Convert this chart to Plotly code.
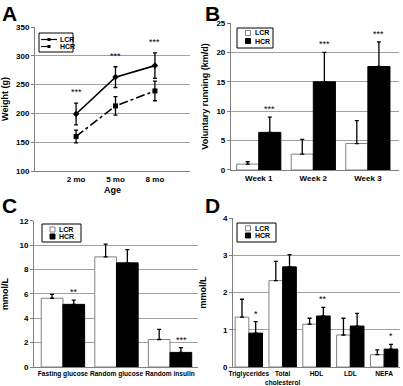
import plotly.graph_objects as go

# ---- Data ----
ages = ["2 mo", "5 mo", "8 mo"]
weight_lcr = [199, 263, 283]
weight_lcr_err = [19, 18, 22]
weight_hcr = [160, 213, 239]
weight_hcr_err = [11, 16, 17]
weight_sig = ["***", "***", "***"]

weeks = ["Week 1", "Week 2", "Week 3"]
run_lcr = [1.0, 2.7, 4.5]
run_lcr_err = [0.4, 2.5, 3.9]
run_hcr = [6.4, 15.0, 17.6]
run_hcr_err = [2.6, 5.0, 4.2]
run_sig = ["***", "***", "***"]

gluc_cats = ["Fasting glucose", "Random glucose", "Random insulin"]
gluc_lcr = [5.65, 9.05, 2.26]
gluc_lcr_err = [0.32, 1.05, 0.84]
gluc_hcr = [5.15, 8.56, 1.2]
gluc_hcr_err = [0.35, 1.09, 0.4]
gluc_sig = ["**", "", "***"]

lipid_cats = ["Triglycerides", "Total<br>cholesterol", "HDL", "LDL", "NEFA"]
lipid_lcr = [1.34, 2.32, 1.15, 0.86, 0.33]
lipid_lcr_err = [0.48, 0.52, 0.16, 0.45, 0.13]
lipid_hcr = [0.91, 2.69, 1.37, 1.1, 0.48]
lipid_hcr_err = [0.31, 0.33, 0.23, 0.34, 0.13]
lipid_sig = ["*", "", "**", "", "*"]

series_names = ["LCR", "HCR"]

W, H = 403, 386
FONT = "Liberation Sans, Arial, sans-serif"
GRID = "#a0a0a0"
AXC = "#808080"

fig = go.Figure()

def err(arr, up_only=False):
    d = dict(type="data", array=arr, color="black", thickness=1.3, width=2)
    if up_only:
        d.update(symmetric=False, arrayminus=[0] * len(arr))
    return d

# Panel A
fig.add_trace(go.Scatter(x=ages, y=weight_lcr, name=series_names[0], mode="lines+markers", showlegend=False,
                         line=dict(color="black", width=1.6), marker=dict(symbol="diamond", size=5, color="black"),
                         error_y=err(weight_lcr_err), xaxis="x", yaxis="y"))
fig.add_trace(go.Scatter(x=ages, y=weight_hcr, name=series_names[1], mode="lines+markers", showlegend=False,
                         line=dict(color="black", width=1.6, dash="dashdot"), marker=dict(symbol="square", size=5, color="black"),
                         error_y=err(weight_hcr_err), xaxis="x", yaxis="y"))

def bars(cats, lcr, lcre, hcr, hcre, xa, ya):
    fig.add_trace(go.Bar(x=cats, y=lcr, name=series_names[0], showlegend=False,
                         marker=dict(color="white", line=dict(color=AXC, width=1)),
                         error_y=err(lcre, True), xaxis=xa, yaxis=ya))
    fig.add_trace(go.Bar(x=cats, y=hcr, name=series_names[1], showlegend=False,
                         marker=dict(color="black", line=dict(color="black", width=1)),
                         error_y=err(hcre, True), xaxis=xa, yaxis=ya))

bars(weeks, run_lcr, run_lcr_err, run_hcr, run_hcr_err, "x2", "y2")
bars(gluc_cats, gluc_lcr, gluc_lcr_err, gluc_hcr, gluc_hcr_err, "x3", "y3")
bars(lipid_cats, lipid_lcr, lipid_lcr_err, lipid_hcr, lipid_hcr_err, "x4", "y4")

annots = []
shapes = []
starf = dict(family=FONT, size=9, color="black")
# stars
for i, s in enumerate(weight_sig):
    if s:
        annots.append(dict(x=ages[i], y=weight_lcr[i] + weight_lcr_err[i], xref="x", yref="y", text=s,
                           showarrow=False, yanchor="bottom", yshift=4, font=starf))

def bar_stars(cats, hcr, hcre, sig, xa, ya, xs):
    for i, s in enumerate(sig):
        if s:
            annots.append(dict(x=cats[i], y=hcr[i] + hcre[i], xref=xa, yref=ya, text=s, xshift=xs,
                               showarrow=False, yanchor="bottom", yshift=1, font=starf))

bar_stars(weeks, run_hcr, run_hcr_err, run_sig, "x2", "y2", 11)
bar_stars(gluc_cats, gluc_hcr, gluc_hcr_err, gluc_sig, "x3", "y3", 11)
bar_stars(lipid_cats, lipid_hcr, lipid_hcr_err, lipid_sig, "x4", "y4", 7)

# panel letters
for letter, x, y in [("A", 0.0, 1.0), ("B", 0.503, 1.0), ("C", 0.0, 0.503), ("D", 0.503, 0.503)]:
    annots.append(dict(x=x, y=y, xref="paper", yref="paper", text="<b>" + letter + "</b>", showarrow=False,
                       xanchor="left", yanchor="top", font=dict(family=FONT, size=21, color="black")))

# ---- hand-drawn legend boxes (pixel helpers) ----
def px(x):
    return x / W

def py(y):
    return 1 - y / H

legf = dict(family=FONT, size=7, color="black", weight="bold")

def legend_box(x0, y0, x1, y1):
    shapes.append(dict(type="rect", xref="paper", yref="paper", x0=px(x0), x1=px(x1), y0=py(y1), y1=py(y0),
                       line=dict(color="black", width=1), fillcolor="white", layer="above"))

def legend_text(x, y, t):
    annots.append(dict(x=px(x), y=py(y), xref="paper", yref="paper", text=t, showarrow=False,
                       xanchor="left", yanchor="middle", font=legf))

def bar_legend(x0, y0, x1, y1, sx, sy1, sy2, tx):
    legend_box(x0, y0, x1, y1)
    for sy, fill, lc, name in [(sy1, "white", AXC, series_names[0]), (sy2, "black", "black", series_names[1])]:
        shapes.append(dict(type="rect", xref="paper", yref="paper", x0=px(sx), x1=px(sx + 5), y0=py(sy + 2.5),
                           y1=py(sy - 2.5), fillcolor=fill, line=dict(color=lc, width=1), layer="above"))
        legend_text(tx, sy, name)

# Legend A (line legend)
legend_box(39, 33, 73, 52)
for yy, dash, name in [(39.5, "solid", series_names[0]), (46.5, "dash", series_names[1])]:
    shapes.append(dict(type="line", xref="paper", yref="paper", x0=px(41), x1=px(57), y0=py(yy), y1=py(yy),
                       line=dict(color="black", width=1.2, dash=dash), layer="above"))
    shapes.append(dict(type="rect", xref="paper", yref="paper", x0=px(47.5), x1=px(50.5), y0=py(yy + 1.5),
                       y1=py(yy - 1.5), fillcolor="black", line=dict(color="black", width=0), layer="above"))
    legend_text(58, yy, name)

bar_legend(237, 28, 273, 48, 245.5, 33, 41, 253)
bar_legend(42, 224, 81, 242, 50, 229.5, 236.5, 57)
bar_legend(237, 223, 276, 242, 245.5, 228.3, 235.5, 253)

tickf = dict(family=FONT, size=8, color="black", weight="bold")
tickf_small = dict(family=FONT, size=6.6, color="black", weight="bold")
titlef = dict(family=FONT, size=9, color="black", weight="bold")

def yax(domain, rng, dtick, title, anchor, standoff):
    return dict(domain=domain, range=rng, dtick=dtick, anchor=anchor, showgrid=True, gridcolor=GRID, gridwidth=1,
                showline=True, linecolor=AXC, linewidth=1, ticks="outside", ticklen=3, tickcolor=AXC,
                tickfont=tickf, title=dict(text=title, font=titlef, standoff=standoff), zeroline=False,
                fixedrange=True, automargin=False)

def xax(domain, anchor, rng, title=None, tf=tickf):
    d = dict(domain=domain, anchor=anchor, showline=True, linecolor=AXC, linewidth=1, ticks="", tickfont=tf,
             tickangle=0, showgrid=False, zeroline=False, range=rng, fixedrange=True, automargin=False)
    if title:
        d["title"] = dict(text=title, font=titlef, standoff=4)
    return d

fig.update_layout(
    width=W, height=H, margin=dict(l=0, r=0, t=0, b=0, autoexpand=False), showlegend=False,
    paper_bgcolor="white", plot_bgcolor="white", barmode="group", bargap=0.19, bargroupgap=0,
    xaxis=xax([0.087, 0.4715], "y", [-1.04, 2.89], "Age"),
    yaxis=yax([0.557, 0.930], [100, 350], 50, "Weight (g)", "x", 8),
    xaxis2=xax([0.573, 0.990], "y2", [-0.51, 2.57]),
    yaxis2=yax([0.5596, 0.9404], [0, 25], 5, "Voluntary running (km/d)", "x2", 6),
    xaxis3=xax([0.0844, 0.491], "y3", [-0.54, 2.52], tf=tickf_small),
    yaxis3=yax([0.0492, 0.4275], [0, 12], 2, "mmol/L", "x3", 10),
    xaxis4=xax([0.578, 0.9926], "y4", [-0.47, 4.47], tf=tickf_small),
    yaxis4=yax([0.0492, 0.435], [0, 4], 1, "mmol/L", "x4", 14),
    annotations=annots,
    shapes=shapes,
)

fig.write_html("out.html", config={"displayModeBar": False},
               post_script="document.body.style.margin='0';document.body.style.overflow='hidden';")
